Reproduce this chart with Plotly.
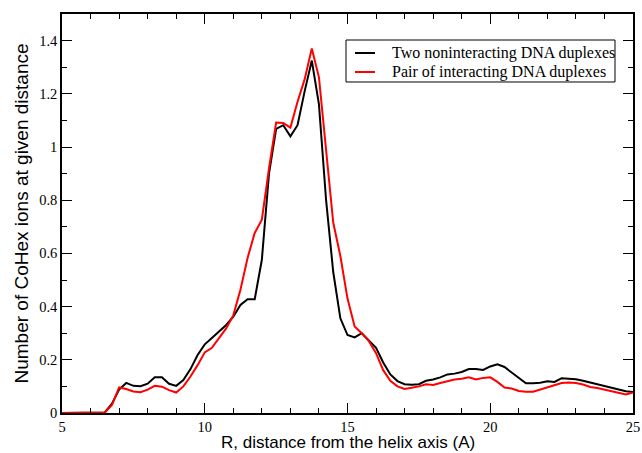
import plotly.graph_objects as go

r_black = [5.0, 5.25, 5.5, 5.75, 6.0, 6.25, 6.5, 6.75, 7.0, 7.25, 7.5, 7.75, 8.0, 8.25, 8.5, 8.75,
           9.0, 9.25, 9.5, 9.75, 10.0, 10.25, 10.5, 10.75, 11.0, 11.25, 11.5, 11.75, 12.0, 12.25,
           12.5, 12.75, 13.0, 13.25, 13.5, 13.75, 14.0, 14.25, 14.5, 14.75, 15.0, 15.25, 15.5,
           15.75, 16.0, 16.25, 16.5, 16.75, 17.0, 17.25, 17.5, 17.75, 18.0, 18.25, 18.5, 18.75,
           19.0, 19.25, 19.5, 19.75, 20.0, 20.25, 20.5, 20.75, 21.0, 21.25, 21.5, 21.75, 22.0,
           22.25, 22.5, 22.75, 23.0, 23.25, 23.5, 23.75, 24.0, 24.25, 24.5, 24.75, 25.0]
n_black = [0.0, 0.0, 0.0, 0.0, 0.0, 0.0, 0.002, 0.035, 0.088, 0.113, 0.102, 0.101, 0.11, 0.134,
           0.134, 0.11, 0.102, 0.124, 0.165, 0.218, 0.258, 0.282, 0.305, 0.331, 0.362, 0.406,
           0.428, 0.428, 0.576, 0.9, 1.068, 1.082, 1.04, 1.082, 1.21, 1.325, 1.16, 0.8, 0.53,
           0.356, 0.293, 0.284, 0.3, 0.274, 0.245, 0.19, 0.145, 0.12, 0.108, 0.106, 0.108, 0.121,
           0.126, 0.134, 0.145, 0.148, 0.154, 0.165, 0.165, 0.162, 0.175, 0.183, 0.173, 0.152,
           0.131, 0.112, 0.112, 0.114, 0.119, 0.117, 0.131, 0.13, 0.127, 0.121, 0.114, 0.108,
           0.1, 0.094, 0.088, 0.082, 0.079]

r_red = r_black
n_red = [0.0, 0.0, 0.0, 0.0, 0.0, 0.0, 0.002, 0.03, 0.096, 0.09, 0.081, 0.078, 0.088, 0.102,
         0.099, 0.086, 0.077, 0.1, 0.137, 0.18, 0.228, 0.245, 0.28, 0.318, 0.367, 0.463, 0.583,
         0.677, 0.727, 0.92, 1.092, 1.09, 1.073, 1.17, 1.255, 1.37, 1.262, 0.99, 0.716, 0.59,
         0.43, 0.325, 0.3, 0.27, 0.225, 0.161, 0.121, 0.1, 0.09, 0.095, 0.1, 0.108, 0.105, 0.113,
         0.12, 0.126, 0.129, 0.134, 0.126, 0.132, 0.134, 0.117, 0.096, 0.092, 0.083, 0.08, 0.08,
         0.088, 0.096, 0.105, 0.113, 0.115, 0.113, 0.107, 0.098, 0.094, 0.088, 0.081, 0.075,
         0.07, 0.077]

name_black = "Two noninteracting DNA duplexes"
name_red = "Pair of interacting DNA duplexes"

x_title = "R, distance from the helix axis (A)"
y_title = "Number of CoHex ions at given distance"

series = [(r_black, n_black, name_black, "black"),
          (r_red, n_red, name_red, "#ff0000")]

fig = go.Figure()
for xs, ys, nm, col in series:
    fig.add_trace(go.Scatter(x=xs, y=ys, mode="lines", name=nm,
                             line=dict(color=col, width=2), showlegend=False))

axis_common = dict(
    showgrid=False, zeroline=False, showline=True, linecolor="black", linewidth=1.5,
    mirror="allticks", ticks="inside", ticklen=10, tickwidth=1.2, tickcolor="black",
    tickfont=dict(family="Liberation Serif", size=14.5, color="black"),
    automargin=False,
)

fig.update_xaxes(range=[5, 25], dtick=5, tick0=5,
                 minor=dict(ticks="inside", ticklen=5, dtick=1, tickwidth=1.2, tickcolor="black"),
                 **axis_common)
fig.update_yaxes(range=[0, 1.5], dtick=0.2, tick0=0,
                 minor=dict(ticks="inside", ticklen=5, dtick=0.1, tickwidth=1.2, tickcolor="black"),
                 title=dict(text=y_title, standoff=6,
                            font=dict(family="Liberation Sans", size=19, color="black")),
                 **axis_common)

# x-axis title placed just below the tick labels
fig.add_annotation(xref="paper", yref="paper", x=0.5, y=-0.0735, text=x_title, showarrow=False,
                   xanchor="center", yanchor="middle", borderpad=0,
                   font=dict(family="Liberation Sans", size=17, color="black"))

# Legend box drawn in paper coordinates (keeps the compact line spacing of the original)
leg_x0, leg_x1, leg_y0, leg_y1 = 0.4974, 0.9685, 0.8296, 0.9348
leg_rows = [0.9023, 0.8546]
fig.add_shape(type="rect", xref="paper", yref="paper", x0=leg_x0, x1=leg_x1, y0=leg_y0, y1=leg_y1,
              line=dict(color="black", width=1), fillcolor="white", layer="above")
for (xs, ys, nm, col), yrow in zip(series, leg_rows):
    fig.add_shape(type="line", xref="paper", yref="paper", x0=0.5131, x1=0.5482, y0=yrow, y1=yrow,
                  line=dict(color=col, width=2), layer="above")
    fig.add_annotation(xref="paper", yref="paper", x=0.5744, y=yrow, text=nm, showarrow=False,
                       xanchor="left", yanchor="middle",
                       font=dict(family="Liberation Serif", size=16, color="black"))

fig.update_layout(
    width=642, height=453,
    margin=dict(l=62, r=9, t=14, b=40),
    plot_bgcolor="white", paper_bgcolor="white",
    showlegend=False,
)

fig.write_html("out.html")
